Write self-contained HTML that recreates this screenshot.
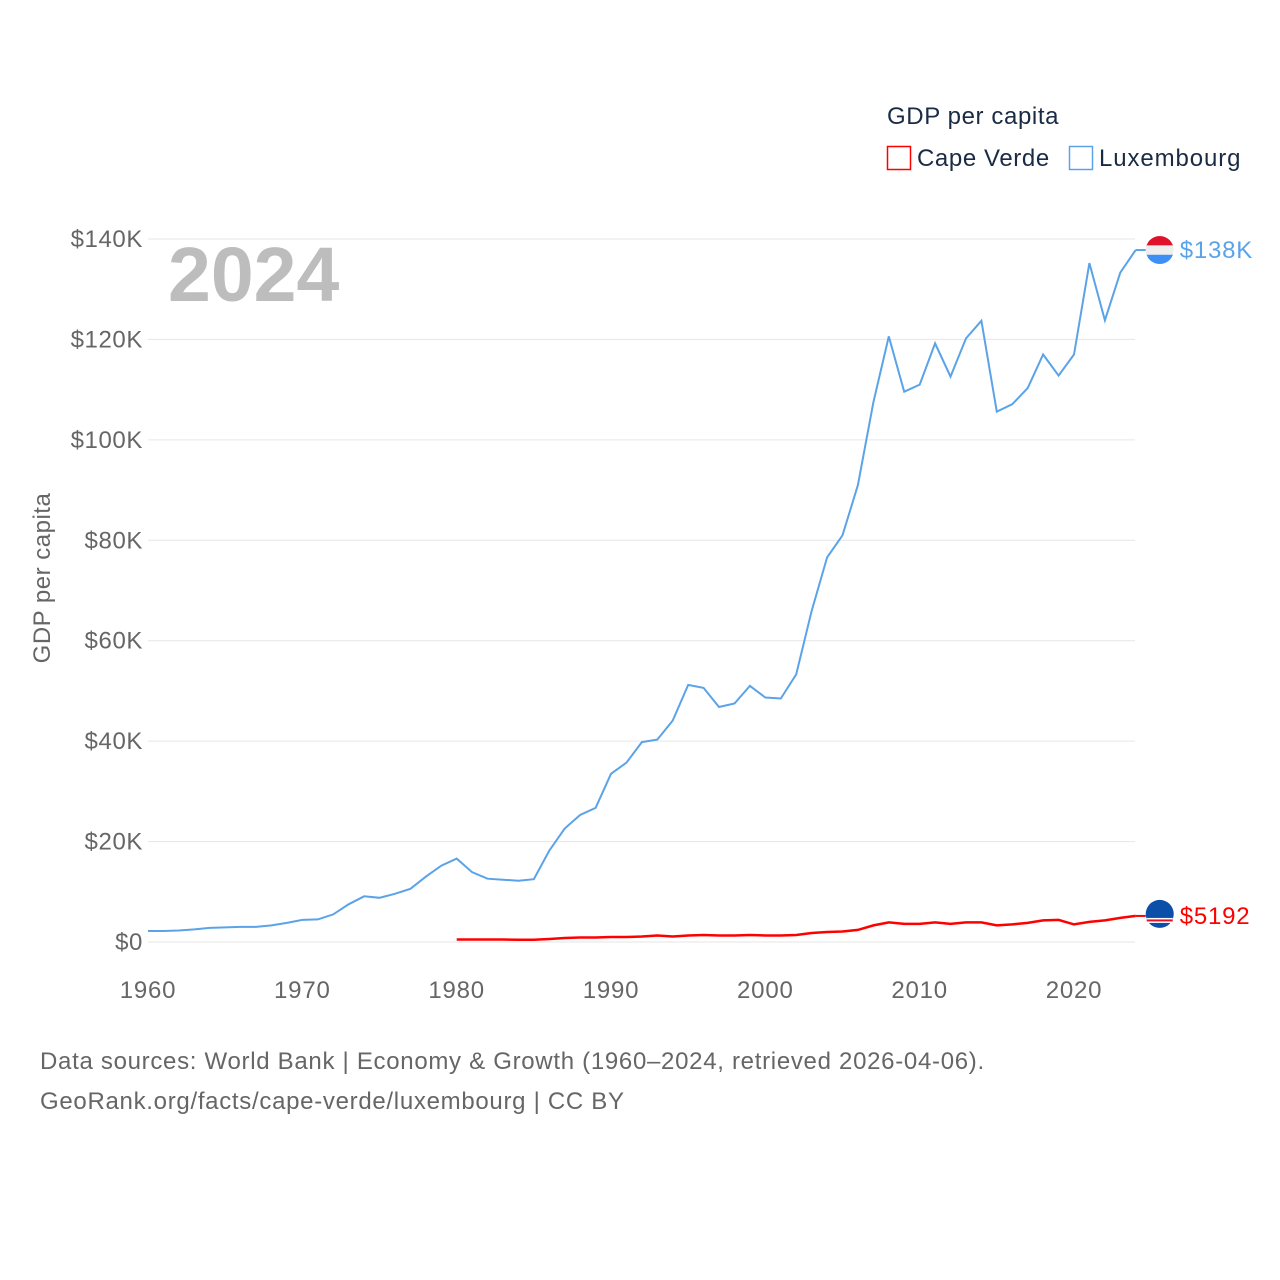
<!DOCTYPE html>
<html><head><meta charset="utf-8"><style>
body{margin:0;background:#fff;width:1280px;height:1280px;overflow:hidden;font-family:"Liberation Sans",sans-serif}
svg{display:block}
</style></head><body>
<svg width="1280" height="1280" viewBox="0 0 1280 1280">
<g id="grid"></g>
<g id="yt"></g>
<g id="xt"></g>
<text x="168" y="301" font-size="77" font-weight="bold" fill="#bdbdbd">2024</text>
<text transform="translate(50,578) rotate(-90)" text-anchor="middle" font-size="24" letter-spacing="0.5" fill="#666">GDP per capita</text>
<text x="887" y="124" font-size="24" letter-spacing="0.6" fill="#1a2b44">GDP per capita</text>
<g><rect x="887.5" y="146.5" width="23" height="23" fill="none" stroke="#ff0000" stroke-width="1.5"/><text x="917" y="166" font-size="24" letter-spacing="0.6" fill="#1a2b44">Cape Verde</text></g>
<g><rect x="1069.5" y="146.5" width="23" height="23" fill="none" stroke="#5ba3e8" stroke-width="1.5"/><text x="1099" y="166" font-size="24" letter-spacing="0.9" fill="#1a2b44">Luxembourg</text></g>
<path id="lux" fill="none" stroke="#5ba3e8" stroke-width="2"/>
<path id="cv" fill="none" stroke="#ff0000" stroke-width="2.5"/>
<g id="ends"></g>
<text x="40" y="1069" font-size="24" letter-spacing="0.7" fill="#666">Data sources: World Bank | Economy &amp; Growth (1960–2024, retrieved 2026-04-06).</text>
<text x="40" y="1109" font-size="24" letter-spacing="0.7" fill="#666">GeoRank.org/facts/cape-verde/luxembourg | CC BY</text>
</svg>
<script>
const luxYears=[1960,2024];
const luxValues=[2.2,2.2,2.3,2.5,2.8,2.9,3.0,3.0,3.3,3.8,4.4,4.5,5.5,7.5,9.1,8.8,9.6,10.6,13.0,15.2,16.6,13.9,12.6,12.4,12.2,12.5,18.2,22.6,25.3,26.7,33.5,35.7,39.8,40.3,44.1,51.2,50.6,46.8,47.5,51.0,48.7,48.5,53.3,65.9,76.6,81.0,91.0,107.5,120.6,109.6,111.0,119.2,112.6,120.2,123.7,105.6,107.1,110.3,117.0,112.8,117.0,135.2,123.8,133.3,137.8];
const cvStart=1980;
const cvValues=[0.5,0.5,0.5,0.5,0.45,0.45,0.6,0.8,0.9,0.9,1.0,1.0,1.1,1.3,1.1,1.3,1.4,1.3,1.3,1.4,1.3,1.3,1.4,1.8,2.0,2.1,2.4,3.3,3.9,3.6,3.6,3.9,3.6,3.9,3.9,3.3,3.5,3.8,4.3,4.4,3.5,4.0,4.3,4.8,5.192];
const yTicks=[0,20,40,60,80,100,120,140];
const yTickLabels=["$0","$20K","$40K","$60K","$80K","$100K","$120K","$140K"];
const xTicks=[1960,1970,1980,1990,2000,2010,2020];
const endLabels=["$138K","$5192"];
const NS="http://www.w3.org/2000/svg";
const X=y=>148+(y-1960)*(926/60);
const Y=v=>942-v*(703/140);
function mk(tag,attrs,parent){const e=document.createElementNS(NS,tag);for(const k in attrs)e.setAttribute(k,attrs[k]);parent.appendChild(e);return e;}
const grid=document.getElementById('grid'),yt=document.getElementById('yt'),xt=document.getElementById('xt');
yTicks.forEach((t,i)=>{
 const l=mk('line',{x1:148,x2:1135,y1:Y(t),y2:Y(t),stroke:'#e6e6e6','stroke-width':1},grid);
 
 
 const tx=mk('text',{x:143,y:Y(t)+8,'text-anchor':'end','font-size':24,'letter-spacing':0.6,fill:'#666'},yt);
 tx.textContent=yTickLabels[i];
 
 
});
xTicks.forEach(t=>{
 const tx=mk('text',{x:X(t),y:998,'text-anchor':'middle','font-size':24,'letter-spacing':0.8,fill:'#666'},xt);
 tx.textContent=t;
 
 
});
document.getElementById('lux').setAttribute('d',luxValues.map((v,i)=>(i?'L':'M')+X(luxYears[0]+i).toFixed(1)+','+Y(v).toFixed(1)).join(''));
document.getElementById('cv').setAttribute('d',cvValues.map((v,i)=>(i?'L':'M')+X(cvStart+i).toFixed(1)+','+Y(v).toFixed(1)).join(''));
const ends=document.getElementById('ends');
const lv=luxValues[luxValues.length-1],cvv=cvValues[cvValues.length-1];
const ly=Y(lv),cy=Y(cvv),ex=X(2024);
mk('line',{x1:ex,x2:ex+10,y1:ly,y2:ly,stroke:'#5ba3e8','stroke-width':2},ends);
const lf=mk('g',{},ends);


mk('clipPath',{id:'c1'},lf).appendChild(document.createElementNS(NS,'circle'));
const c1=lf.querySelector('circle');c1.setAttribute('cx',ex+24);c1.setAttribute('cy',ly);c1.setAttribute('r',14);
mk('rect',{x:ex+10,y:ly-14,width:28,height:10,fill:'#e0112b','clip-path':'url(#c1)'},lf);
mk('rect',{x:ex+10,y:ly-4.7,width:28,height:9.4,fill:'#eee','clip-path':'url(#c1)'},lf);
mk('rect',{x:ex+10,y:ly+4.7,width:28,height:10,fill:'#3d8ff5','clip-path':'url(#c1)'},lf);
const lt=mk('text',{x:ex+44,y:ly+8,'font-size':24,'letter-spacing':0.8,fill:'#5ba3e8'},ends);lt.textContent=endLabels[0];


mk('line',{x1:ex,x2:ex+10,y1:cy,y2:cy,stroke:'#ff0000','stroke-width':2},ends);
const cf=mk('g',{},ends);


mk('circle',{cx:ex+24,cy:cy-2,r:14,fill:'#0b4fa8'},cf);
mk('rect',{x:ex+11,y:cy+2,width:26,height:5,fill:'#fff'},cf);
mk('rect',{x:ex+11,y:cy+3.5,width:26,height:2,fill:'#e0112b'},cf);
const ct=mk('text',{x:ex+44,y:cy+8,'font-size':24,'letter-spacing':0.8,fill:'#ff0000'},ends);ct.textContent=endLabels[1];


</script>
</body></html>
